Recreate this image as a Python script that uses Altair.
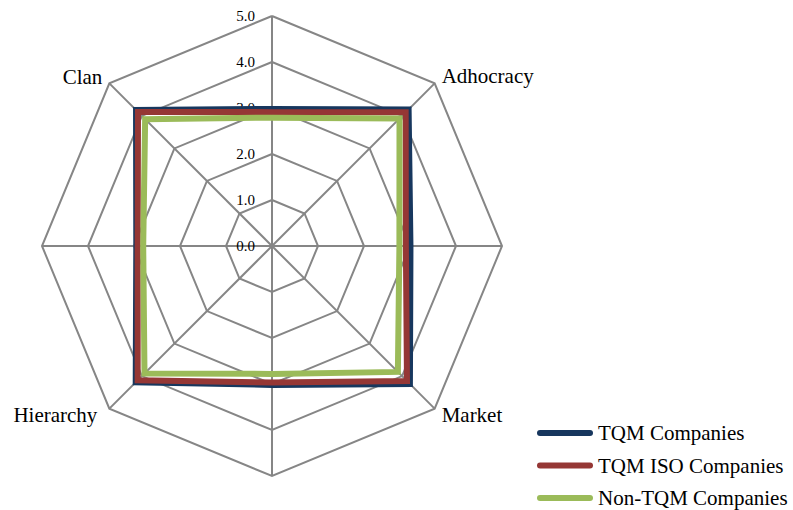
import altair as alt
import pandas as pd

# ---- data ----
categories = ["", "Adhocracy", "", "Market", "", "Hierarchy", "", "Clan"]  # clockwise from top
series = ["TQM Companies", "TQM ISO Companies", "Non-TQM Companies"]
tqm_vals = [2.98, 4.20, 3.01, 4.24, 3.02, 4.19, 2.95, 4.18]
tqm_iso_vals = [2.91, 4.11, 2.91, 4.15, 2.97, 4.13, 2.92, 4.12]
non_tqm_vals = [2.79, 3.92, 2.77, 3.87, 2.78, 3.92, 2.80, 3.90]
grid_levels = [1, 2, 3, 4, 5]
tick_values = [0, 1, 2, 3, 4, 5]
tick_labels = ["0.0", "1.0", "2.0", "3.0", "4.0", "5.0"]
colors = ["#17375E", "#953735", "#9BBB59"]
grid_color = "#868686"
FONT = "Liberation Serif"
N = len(categories)
RMAX = 5

# ---- tables ----
rows = []
for name, vals in zip(series, [tqm_vals, tqm_iso_vals, non_tqm_vals]):
    for i in range(N + 1):
        rows.append({"series": name, "idx": i, "value": vals[i % N]})
series_df = pd.DataFrame(rows)

grid_df = pd.DataFrame([{"level": l, "idx": i} for l in grid_levels for i in range(N + 1)])
spoke_df = pd.DataFrame({"idx": list(range(N))})
tick_df = pd.DataFrame({"level": tick_values, "label": tick_labels})
cat_df = pd.DataFrame({"idx": list(range(N)), "cat": categories})
legend_df = pd.DataFrame({"series": series})

# ---- scales: 46 px per unit, centre at (272, 246) in a 793x510 view ----
W, H = 793, 510
PX = 46.0
CX, CY = 272, 246
xscale = alt.Scale(domain=[-CX / PX, (W - CX) / PX], nice=False, zero=False)
yscale = alt.Scale(domain=[-(H - CY) / PX, CY / PX], nice=False, zero=False)
color_scale = alt.Scale(domain=series, range=colors)

ANG = "datum.idx * PI / 4"

grid = alt.Chart(grid_df).transform_calculate(
    x=f"datum.level * sin({ANG})", y=f"datum.level * cos({ANG})"
).mark_line(color=grid_color, strokeWidth=2).encode(
    x=alt.X("x:Q", scale=xscale, axis=None),
    y=alt.Y("y:Q", scale=yscale, axis=None),
    detail="level:N",
    order=alt.Order("idx:Q"),
)

spokes = alt.Chart(spoke_df).transform_calculate(
    x0="0", y0="0",
    x2=f"{RMAX} * sin({ANG})", y2=f"{RMAX} * cos({ANG})"
).mark_rule(color=grid_color, strokeWidth=2).encode(
    x=alt.X("x0:Q", scale=xscale, axis=None),
    y=alt.Y("y0:Q", scale=yscale, axis=None),
    x2="x2:Q",
    y2="y2:Q",
)

ticks = alt.Chart(tick_df).transform_calculate(x0="0").mark_text(
    align="right", baseline="middle", dx=-17, font=FONT, fontSize=15, color="black"
).encode(
    x=alt.X("x0:Q", scale=xscale, axis=None),
    y=alt.Y("level:Q", scale=yscale, axis=None),
    text="label:N",
)

line_layers = []
for name in series:
    line_layers.append(
        alt.Chart(series_df).transform_filter(
            alt.datum.series == name
        ).transform_calculate(
            x=f"datum.value * sin({ANG})", y=f"datum.value * cos({ANG})"
        ).mark_line(strokeWidth=6, strokeJoin="miter").encode(
            x=alt.X("x:Q", scale=xscale, axis=None),
            y=alt.Y("y:Q", scale=yscale, axis=None),
            color=alt.Color("series:N", scale=color_scale, legend=None),
            order=alt.Order("idx:Q"),
        )
    )

label_specs = {
    "Clan": ("right", -7, 1),
    "Adhocracy": ("left", 7, 0),
    "Market": ("left", 7, 13),
    "Hierarchy": ("right", -12, 13),
}
label_layers = []
for cat, (align, dx, dy) in label_specs.items():
    label_layers.append(
        alt.Chart(cat_df).transform_filter(alt.datum.cat == cat).transform_calculate(
            x=f"{RMAX} * sin({ANG})", y=f"{RMAX} * cos({ANG})"
        ).mark_text(
            align=align, baseline="alphabetic", dx=dx, dy=dy,
            font=FONT, fontSize=21, color="black"
        ).encode(
            x=alt.X("x:Q", scale=xscale, axis=None),
            y=alt.Y("y:Q", scale=yscale, axis=None),
            text="cat:N",
        )
    )

main = alt.layer(grid, spokes, ticks, *line_layers, *label_layers)

# ---- legend (built from the series names) ----
leg_y = alt.Y("series:N", scale=alt.Scale(type="point", domain=series, range=[433, 498], padding=0), axis=None)
leg_lines = alt.Chart(legend_df).mark_rule(strokeWidth=6, strokeCap="round").encode(
    x=alt.value(540), x2=alt.value(590),
    y=leg_y,
    color=alt.Color("series:N", scale=color_scale, legend=None),
)
leg_text = alt.Chart(legend_df).mark_text(
    align="left", baseline="middle", dy=1, font=FONT, fontSize=21, color="black"
).encode(
    x=alt.value(598),
    y=leg_y,
    text="series:N",
)
legend_layer = alt.layer(leg_lines, leg_text)

chart = alt.layer(main, legend_layer).resolve_scale(y="independent").properties(
    width=W, height=H,
    autosize=alt.AutoSizeParams(type="none"),
    padding=0,
    background="white",
).configure_view(stroke=None)

chart.save("out.html", embed_options={"renderer": "svg", "actions": False})
